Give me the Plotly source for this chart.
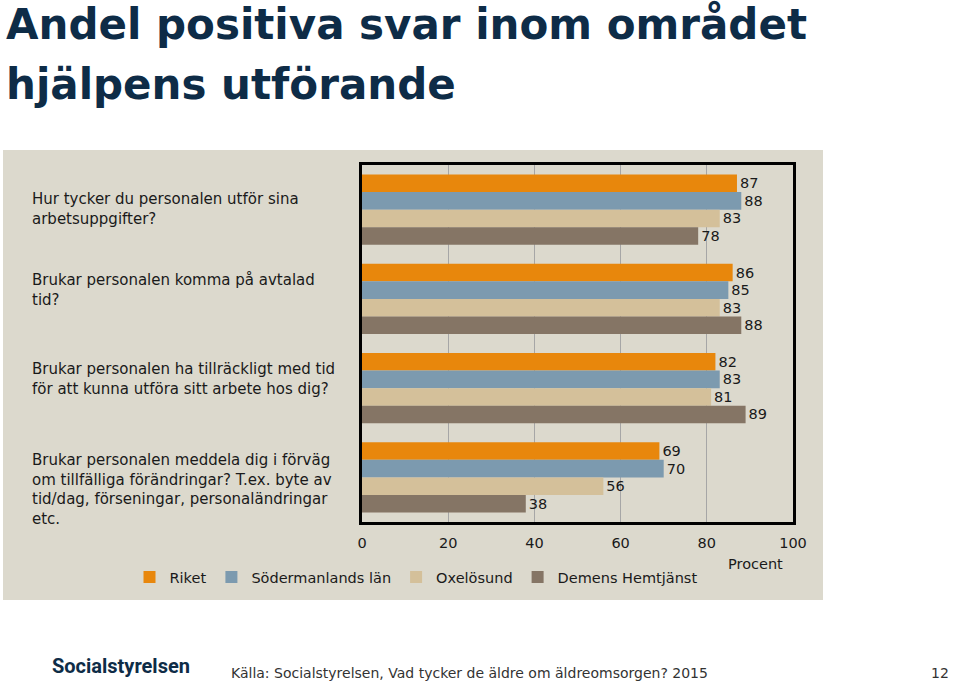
import plotly.graph_objects as go

W, H = 959, 688

categories = [
    "Hur tycker du personalen utför sina arbetsuppgifter?",
    "Brukar personalen komma på avtalad tid?",
    "Brukar personalen ha tillräckligt med tid för att kunna utföra sitt arbete hos dig?",
    "Brukar personalen meddela dig i förväg om tillfälliga förändringar? T.ex. byte av tid/dag, förseningar, personaländringar etc.",
]
category_labels = [
    "Hur tycker du personalen utför sina<br>arbetsuppgifter?",
    "Brukar personalen komma på avtalad<br>tid?",
    "Brukar personalen ha tillräckligt med tid<br>för att kunna utföra sitt arbete hos dig?",
    "Brukar personalen meddela dig i förväg<br>om tillfälliga förändringar? T.ex. byte av<br>tid/dag, förseningar, personaländringar<br>etc.",
]
series_names = ["Riket", "Södermanlands län", "Oxelösund", "Demens Hemtjänst"]
riket = [87, 86, 82, 69]
sodermanland = [88, 85, 83, 70]
oxelosund = [83, 83, 81, 56]
demens = [78, 88, 89, 38]
x_ticks = [0, 20, 40, 60, 80, 100]

colors = ["#E8870C", "#7C9AAF", "#D4C09A", "#857565"]
FONT = "'DejaVu Sans', sans-serif"
TXT = "#1a1a1a"

def px(x):
    return x / W

def py(y):
    return 1 - y / H

fig = go.Figure()
for name, vals, col in zip(series_names, [riket, sodermanland, oxelosund, demens], colors):
    fig.add_trace(go.Bar(
        y=categories, x=vals, name=name, orientation="h",
        marker=dict(color=col, line=dict(width=0)),
        text=[str(v) for v in vals], textposition="outside",
        textfont=dict(size=14.5, color=TXT, family=FONT),
        cliponaxis=False,
        hoverinfo="skip",
    ))

fig.update_layout(
    width=W, height=H,
    margin=dict(l=0, r=0, t=0, b=0),
    paper_bgcolor="white",
    plot_bgcolor="white",
    barmode="group",
    bargap=0.215,
    bargroupgap=0,
    font=dict(family=FONT, size=15, color=TXT),
    xaxis=dict(
        domain=[px(362), px(793)],
        range=[0, 100], tickvals=x_ticks,
        showgrid=True, gridcolor="#a6a6a6", gridwidth=1,
        zeroline=False,
        showline=True, linecolor="black", linewidth=2.5, mirror=True,
        ticks="outside", ticklen=6, tickcolor="rgba(0,0,0,0)",
        tickfont=dict(size=14.5, color=TXT, family=FONT),
        fixedrange=True, automargin=False,
    ),
    yaxis=dict(
        domain=[py(522), py(165)],
        autorange="reversed",
        showticklabels=False,
        showgrid=False, zeroline=False,
        showline=True, linecolor="black", linewidth=2.5, mirror=True,
        fixedrange=True, automargin=False,
    ),
    legend=dict(
        orientation="h", x=px(416), xanchor="center",
        y=py(577), yanchor="middle",
        font=dict(size=14.5, color=TXT, family=FONT),
        bgcolor="rgba(0,0,0,0)",
        traceorder="normal",
        itemwidth=30,
    ),
    showlegend=True,
)

# Panel background
fig.add_shape(type="rect", xref="paper", yref="paper",
              x0=px(3), x1=px(823), y0=py(600), y1=py(150),
              fillcolor="#DCD9CD", line=dict(width=0), layer="below")

# Title
TFONT = "'DejaVu Sans', sans-serif"
fig.add_annotation(text="<b>Andel positiva svar inom området</b>", xref="paper", yref="paper",
                   x=px(4), y=py(25), xanchor="left", yanchor="middle", showarrow=False,
                   font=dict(size=42, color="#0E2C47", family=TFONT))
fig.add_annotation(text="<b>hjälpens utförande</b>", xref="paper", yref="paper",
                   x=px(4), y=py(84), xanchor="left", yanchor="middle", showarrow=False,
                   font=dict(size=42, color="#0E2C47", family=TFONT))

# Category labels
label_centers = [209, 290, 379, 489]
for lab, cy in zip(category_labels, label_centers):
    fig.add_annotation(text=lab, xref="paper", yref="paper",
                       x=px(30), y=py(cy), xanchor="left", yanchor="middle",
                       align="left", showarrow=False,
                       font=dict(size=15, color=TXT, family=FONT))

# Axis title
fig.add_annotation(text="Procent", xref="paper", yref="paper",
                   x=px(755), y=py(564), xanchor="center", yanchor="middle",
                   showarrow=False, font=dict(size=14.5, color=TXT, family=FONT))

# Footer
fig.add_annotation(text="<b>Socialstyrelsen</b>", xref="paper", yref="paper",
                   x=px(50), y=py(666), xanchor="left", yanchor="middle",
                   showarrow=False,
                   font=dict(size=20, color="#0E2C47", family="'Liberation Sans Narrow', Roboto, sans-serif"))
fig.add_annotation(text="Källa: Socialstyrelsen, Vad tycker de äldre om äldreomsorgen? 2015",
                   xref="paper", yref="paper", x=px(229), y=py(673),
                   xanchor="left", yanchor="middle", showarrow=False,
                   font=dict(size=14, color="#333333", family=FONT))
fig.add_annotation(text="12", xref="paper", yref="paper", x=px(951), y=py(673),
                   xanchor="right", yanchor="middle", showarrow=False,
                   font=dict(size=14, color="#333333", family=FONT))

fig.write_html(
    "out.html",
    config={"displayModeBar": False},
    post_script="document.body.style.margin='0';document.body.style.overflow='hidden';",
)
